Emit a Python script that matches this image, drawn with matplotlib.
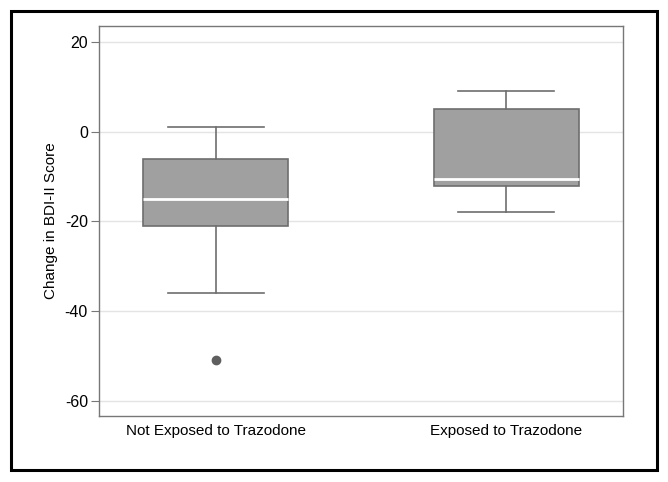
import matplotlib
matplotlib.use("Agg")
import matplotlib.pyplot as plt
from matplotlib.patches import Rectangle

plt.rcParams['font.family'] = ['Liberation Sans', 'DejaVu Sans']

# box summaries
groups = ["Not Exposed to Trazodone", "Exposed to Trazodone"]
medians = [-15, -10.5]
q1 = [-21, -12]
q3 = [-6, 5]
whis_lo = [-36, -18]
whis_hi = [1, 9]
outliers = [[-51], []]
yticks = [20, 0, -20, -40, -60]

stats = []
for i, g in enumerate(groups):
    stats.append({'label': g, 'med': medians[i], 'q1': q1[i], 'q3': q3[i],
                  'whislo': whis_lo[i], 'whishi': whis_hi[i], 'fliers': outliers[i]})

fig = plt.figure(figsize=(6.68, 4.82), dpi=100)
ax = fig.add_axes([99/668, 1 - 416/482, (623-99)/668, (416-26)/482])

edge = '#6e6e6e'
ax.bxp(stats, positions=[1, 2], widths=0.5, patch_artist=True,
       boxprops=dict(facecolor='#a0a0a0', edgecolor=edge, linewidth=1.2),
       medianprops=dict(color='white', linewidth=2),
       whiskerprops=dict(color=edge, linewidth=1.2),
       capprops=dict(color=edge, linewidth=1.2),
       capwidths=0.33,
       flierprops=dict(marker='o', markersize=6, markerfacecolor='#5f5f5f',
                       markeredgecolor='#5f5f5f'),
       zorder=3)

ax.set_xlim(0.597, 2.403)
ax.set_ylim(-63.4, 23.6)
ax.set_yticks(yticks)
ax.set_yticklabels([str(t) for t in yticks])
ax.yaxis.grid(True, color='#e4e4e4', linewidth=1)
ax.set_axisbelow(True)
ax.tick_params(axis='y', length=6, color='#777777', labelsize=11.5, pad=2)
ax.tick_params(axis='x', length=0, labelsize=11, pad=6)
for s in ax.spines.values():
    s.set_color('#777777')
    s.set_linewidth(1)
ax.set_ylabel("Change in BDI-II Score", fontsize=11, labelpad=5)

# outer frame
fig.patches.append(Rectangle((11/668, 1 - 470/482), (657-11)/668, (470-11)/482,
                             transform=fig.transFigure, fill=False,
                             edgecolor='black', linewidth=2.2))

fig.savefig("out.png", dpi=100)
